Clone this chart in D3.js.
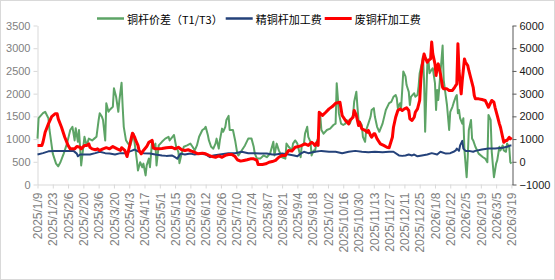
<!DOCTYPE html>
<html lang="zh">
<head>
<meta charset="utf-8">
<title>铜杆价差与加工费</title>
<script src="https://cdn.jsdelivr.net/npm/d3@7"></script>
<style>
  body { margin: 0; background: #fff; }
  svg { display: block; }
  .num { font-family: "Liberation Sans", Arial, sans-serif; font-size: 11px; }
  .legend text { font-family: "Noto Sans CJK SC", sans-serif; font-size: 11px; fill: #000; }
</style>
</head>
<body>
<script>
// x labels (every 14 days)
var tickLabels = ["2025/1/9", "2025/1/23", "2025/2/6", "2025/2/20", "2025/3/6", "2025/3/20", "2025/4/3", "2025/4/17",
  "2025/5/1", "2025/5/15", "2025/5/29", "2025/6/12", "2025/6/26", "2025/7/10", "2025/7/24", "2025/8/7",
  "2025/8/21", "2025/9/4", "2025/9/18", "2025/10/2", "2025/10/16", "2025/10/30", "2025/11/13", "2025/11/27",
  "2025/12/11", "2025/12/25", "2026/1/8", "2026/1/22", "2026/2/5", "2026/2/19", "2026/3/5", "2026/3/19"];
var leftTicks = [0, 500, 1000, 1500, 2000, 2500, 3000, 3500];
var rightTicks = [-1000, 0, 1000, 2000, 3000, 4000, 5000, 6000];
var seriesNames = ["铜杆价差（T1/T3）", "精铜杆加工费", "废铜杆加工费"];

// [days after 2025/1/9, value]
var spread = [[0,1010],[1,1460],[5,1570],[7,1600],[10,1460],[11,1200],[14,680],[17,460],[19,400],[21,490],[24,680],[27,900],[30,1200],[32,1270],[34,970],[35,1240],[37,940],[38,1200],[40,420],[43,1050],[45,860],[47,1010],[50,970],[52,1010],[54,1050],[56,1420],[57,1570],[59,1490],[60,1420],[62,970],[63,1790],[65,1600],[66,1640],[69,1710],[70,2120],[72,1930],[74,1600],[75,1860],[77,2240],[78,1710],[79,1270],[81,975],[83,900],[85,860],[86,940],[88,1120],[89,900],[91,530],[92,310],[94,490],[96,380],[97,460],[99,200],[100,420],[102,570],[103,380],[105,970],[106,790],[108,900],[109,420],[111,860],[114,940],[117,1010],[120,1050],[121,970],[124,1060],[125,1090],[127,830],[129,720],[130,470],[132,680],[134,830],[137,860],[140,900],[142,830],[144,750],[146,860],[148,1050],[151,1200],[153,1230],[154,1270],[156,1090],[157,970],[159,830],[161,790],[163,900],[164,1010],[166,790],[167,970],[169,1230],[170,1160],[172,1270],[173,1420],[175,1510],[176,1200],[179,1200],[181,970],[183,680],[184,640],[187,750],[190,860],[193,1010],[196,1010],[198,830],[199,680],[201,570],[204,570],[207,640],[210,600],[213,680],[216,940],[217,640],[219,900],[221,750],[224,600],[227,570],[228,900],[230,830],[233,750],[234,900],[236,970],[238,900],[239,790],[241,600],[242,860],[244,900],[245,1120],[247,1270],[248,1050],[250,940],[251,640],[253,750],[254,720],[256,970],[257,1010],[259,1500],[260,1200],[262,1120],[265,1200],[268,1230],[271,1310],[273,1340],[274,2230],[275,1930],[276,1570],[278,1340],[280,1310],[282,1340],[283,1420],[286,1340],[289,1530],[290,1820],[292,2040],[293,1710],[294,1420],[297,1310],[298,1050],[300,940],[301,1200],[303,1340],[305,1490],[306,1640],[308,1680],[309,1490],[311,1270],[313,1160],[316,1340],[319,1640],[322,1790],[324,1820],[326,1930],[328,1970],[329,1900],[330,1680],[332,1790],[333,1680],[334,2080],[335,2490],[337,2380],[338,2190],[340,2040],[341,1750],[342,1930],[345,2010],[346,1930],[348,1970],[349,2160],[350,2450],[352,2670],[353,2820],[354,2300],[355,1160],[356,1930],[357,2640],[358,2750],[359,2450],[361,2530],[362,2560],[364,2230],[365,1640],[366,2080],[367,1860],[369,2450],[371,3060],[372,2300],[374,1930],[375,1750],[377,1200],[378,1600],[380,1710],[381,1790],[383,1930],[384,1970],[385,1570],[386,1640],[387,1460],[389,1340],[390,1460],[391,750],[393,160],[394,600],[395,1200],[397,1420],[398,1010],[399,970],[401,830],[404,680],[408,600],[410,570],[412,490],[413,1530],[415,1420],[416,720],[418,160],[420,460],[421,530],[423,830],[424,750],[426,860],[427,750],[429,720],[430,900],[432,830],[433,490],[434,460]];

var refinedFee = [[0,660],[5,690],[10,730],[16,740],[22,740],[28,740],[33,740],[36,680],[37,620],[39,660],[44,660],[48,660],[53,690],[57,720],[62,690],[66,680],[71,660],[76,690],[80,690],[86,740],[89,770],[92,730],[97,690],[103,680],[108,660],[114,640],[118,630],[123,640],[126,600],[128,570],[131,680],[135,660],[140,680],[144,660],[149,680],[154,660],[158,600],[161,640],[167,660],[175,690],[181,690],[187,720],[193,690],[199,690],[204,680],[210,680],[215,660],[218,660],[224,680],[230,660],[235,640],[238,620],[241,680],[244,720],[248,690],[254,720],[260,740],[267,720],[273,720],[279,690],[285,720],[291,740],[297,720],[303,710],[309,720],[316,710],[322,720],[326,720],[331,640],[334,630],[337,640],[340,660],[343,640],[345,660],[348,620],[352,640],[357,660],[361,690],[366,660],[369,720],[374,680],[378,690],[381,720],[383,750],[384,790],[386,740],[387,860],[389,960],[390,790],[392,740],[395,740],[399,720],[401,740],[407,770],[413,790],[419,790],[426,810],[430,830],[433,860],[434,860]];

var scrapFee = [[0,720],[4,720],[5,860],[7,1300],[10,1670],[13,1990],[16,2110],[18,2110],[19,1890],[22,1520],[25,1080],[28,720],[30,570],[31,570],[34,570],[36,670],[39,640],[40,570],[43,720],[45,720],[47,790],[48,640],[50,570],[53,530],[55,570],[57,500],[60,570],[63,620],[66,570],[69,670],[73,570],[76,500],[77,620],[80,500],[82,230],[84,630],[86,1070],[87,1260],[89,1080],[90,940],[92,720],[93,500],[95,350],[97,500],[100,670],[102,860],[105,940],[106,620],[108,570],[111,570],[114,585],[118,620],[123,640],[126,570],[129,640],[132,530],[135,500],[138,530],[141,470],[144,420],[147,350],[151,380],[154,350],[157,280],[160,230],[163,200],[166,260],[169,200],[172,280],[175,320],[178,320],[181,230],[183,90],[186,30],[189,60],[192,90],[195,130],[198,130],[201,60],[202,-120],[206,-120],[209,-90],[212,-20],[215,10],[218,60],[221,200],[224,280],[227,280],[230,500],[233,470],[236,640],[239,670],[242,720],[245,790],[248,720],[251,860],[253,790],[254,720],[256,860],[257,720],[258,2180],[261,2040],[264,2180],[267,2330],[270,2430],[273,2580],[276,2610],[277,2620],[279,2040],[282,1820],[285,1670],[286,1820],[289,1960],[290,2260],[292,2040],[294,1600],[295,1740],[297,1450],[300,1380],[302,1300],[303,1380],[305,1160],[306,1080],[308,1230],[309,1230],[311,1010],[314,790],[317,720],[320,640],[322,620],[325,1080],[326,1520],[328,1960],[330,2260],[332,2330],[334,2260],[336,2330],[338,2380],[340,2260],[341,1890],[343,1820],[345,1960],[346,2180],[348,2330],[350,2700],[351,3580],[352,4160],[354,4750],[355,4600],[357,4380],[358,4460],[360,4530],[361,5270],[362,4750],[364,4310],[365,3800],[366,4160],[367,4310],[369,3870],[371,3280],[372,3210],[375,3210],[377,3140],[380,3140],[382,3280],[384,3430],[385,5200],[386,4020],[388,2990],[389,3580],[391,4530],[392,4380],[394,4240],[395,4020],[397,3650],[399,3280],[400,2920],[401,2770],[404,2770],[407,2740],[410,2700],[413,2400],[416,2700],[418,2620],[419,2400],[421,2040],[423,1670],[424,1520],[426,1080],[427,860],[429,940],[430,940],[432,1080],[433,1010],[434,1080]];

var colors = ["#5da466", "#24427a", "#ff0000"];

var w = 555, h = 280;
var mL = 37.5, mR = 512.5, mT = 25.5, mB = 184.5;
var start = new Date(2025, 0, 9);
var parse = d3.timeParse("%Y/%m/%d");
var day = function(d) { return d3.timeDay.offset(start, d); };

var x = d3.scaleTime()
  .domain([start, day(435)])
  .range([mL, mR]);
var yL = d3.scaleLinear().domain([0, 3500]).range([mB, mT]);
var yR = d3.scaleLinear().domain([-1000, 6000]).range([mB, mT]);

var svg = d3.select("body").append("svg")
  .attr("width", w)
  .attr("height", h);

svg.append("rect")
  .attr("x", 0.5).attr("y", 0.5)
  .attr("width", w - 1).attr("height", h - 1)
  .attr("fill", "#fff").attr("stroke", "#d9d9d9");

// axes
var gx = svg.append("g")
  .attr("class", "num")
  .attr("transform", "translate(0," + mB + ")")
  .call(d3.axisBottom(x)
    .tickValues(tickLabels.map(parse))
    .tickFormat(function(d, i) { return tickLabels[i]; })
    .tickSize(4).tickSizeOuter(0));
gx.select(".domain").attr("stroke", "#d9d9d9");
gx.selectAll(".tick line").attr("stroke", "#d9d9d9");
gx.selectAll("text")
  .attr("transform", "rotate(-90)")
  .attr("text-anchor", "end")
  .attr("x", -8).attr("y", 0).attr("dy", "0.35em")
  .attr("fill", "#7f7f7f")
  .style("font-size", "12px");

var gl = svg.append("g")
  .attr("class", "num")
  .attr("transform", "translate(" + mL + ",0)")
  .call(d3.axisLeft(yL).tickValues(leftTicks).tickFormat(d3.format("d"))
    .tickSize(4).tickPadding(3).tickSizeOuter(0));
gl.select(".domain").attr("stroke", "#d9d9d9");
gl.selectAll(".tick line").attr("stroke", "#d9d9d9");
gl.selectAll("text").attr("fill", "#7f7f7f").style("font-size", "11px");

var gr = svg.append("g")
  .attr("class", "num")
  .attr("transform", "translate(" + mR + ",0)")
  .call(d3.axisRight(yR).tickValues(rightTicks).tickSize(4).tickPadding(3).tickSizeOuter(0)
    .tickFormat(function(d) { return d < 0 ? "\u2212" + Math.abs(d) : d; }));
gr.select(".domain").attr("stroke", "#595959");
gr.selectAll(".tick line").attr("stroke", "#595959");
gr.selectAll("text").attr("fill", "#1a1a1a").style("font-size", "11px");

// lines
var lineL = d3.line()
  .x(function(d) { return x(day(d[0])); })
  .y(function(d) { return yL(d[1]); });
var lineR = d3.line()
  .x(function(d) { return x(day(d[0])); })
  .y(function(d) { return yR(d[1]); });

svg.append("path").datum(spread)
  .attr("d", lineL).attr("fill", "none")
  .attr("stroke", colors[0]).attr("stroke-width", 2).attr("stroke-linejoin", "round");
svg.append("path").datum(refinedFee)
  .attr("d", lineL).attr("fill", "none")
  .attr("stroke", colors[1]).attr("stroke-width", 2).attr("stroke-linejoin", "round");
svg.append("path").datum(scrapFee)
  .attr("d", lineR).attr("fill", "none")
  .attr("stroke", colors[2]).attr("stroke-width", 3).attr("stroke-linejoin", "round");

// legend
var legend = svg.append("g").attr("class", "legend");
var lx = 97;
seriesNames.forEach(function(name, i) {
  legend.append("line")
    .attr("x1", lx).attr("x2", lx + 27)
    .attr("y1", 18.5).attr("y2", 18.5)
    .attr("stroke", colors[i]).attr("stroke-width", i == 2 ? 3 : 2.5);
  var t = legend.append("text")
    .attr("x", lx + 30).attr("y", 19)
    .attr("dominant-baseline", "central")
    .text(name);
  lx = lx + 30 + t.node().getComputedTextLength() + 3;
});
</script>
</body>
</html>
